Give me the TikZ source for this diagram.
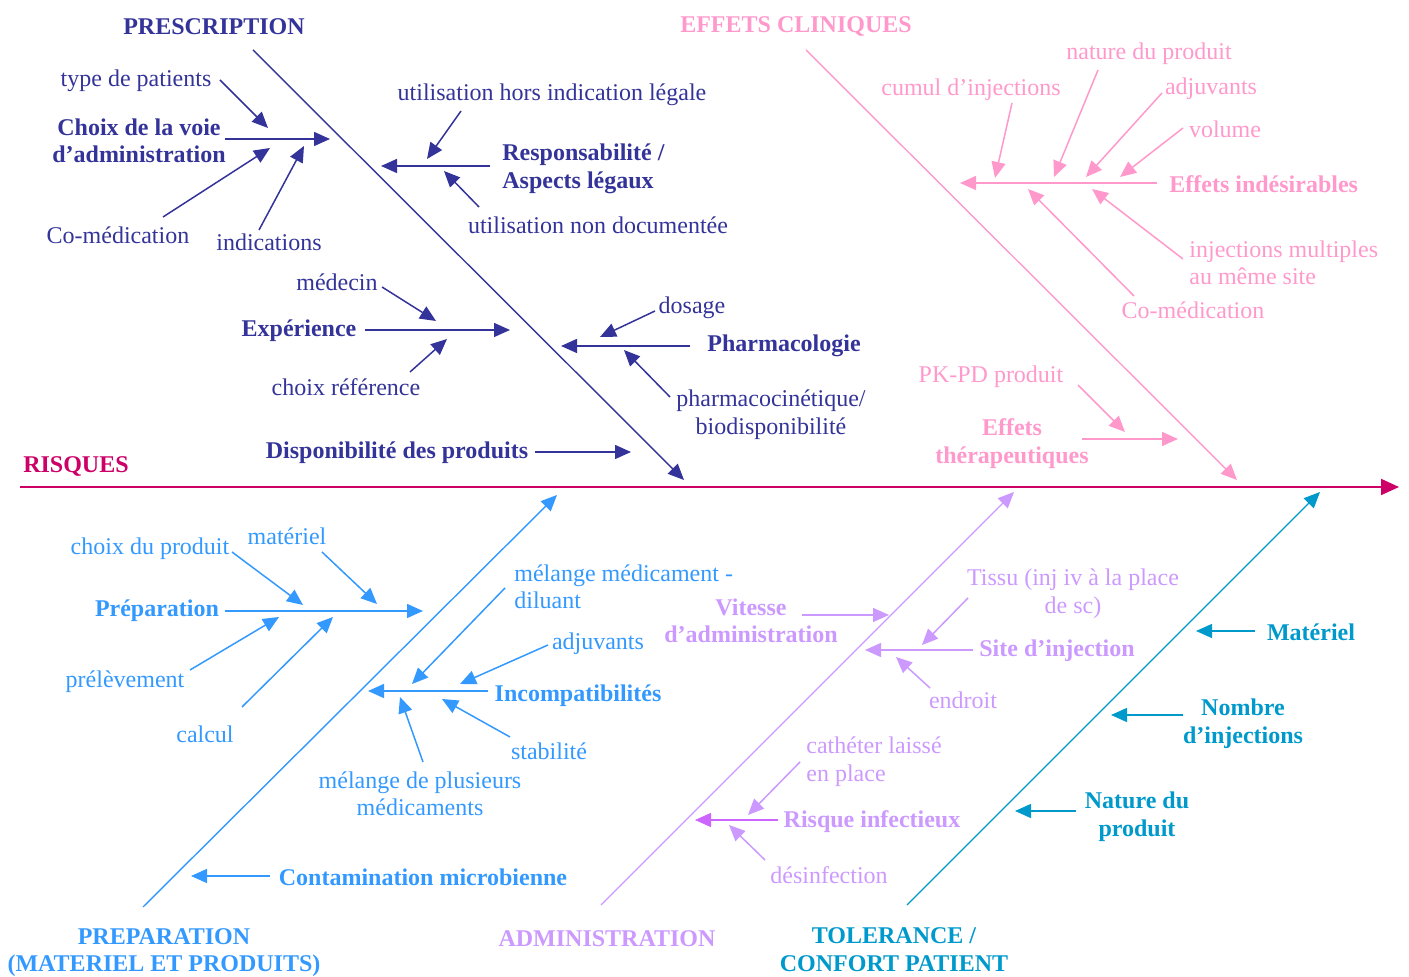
\documentclass[tikz,border=0pt]{standalone}
\usepackage{fontspec}
\setmainfont{Liberation Serif}
\usetikzlibrary{arrows.meta}
\definecolor{cPre}{RGB}{51,51,153}
\definecolor{cEff}{RGB}{255,153,204}
\definecolor{cRis}{RGB}{204,0,102}
\definecolor{cPrep}{RGB}{51,153,255}
\definecolor{cAdm}{RGB}{204,153,255}
\definecolor{cAdmB}{RGB}{204,102,255}
\definecolor{cTol}{RGB}{0,153,204}
\begin{document}
\begin{tikzpicture}[x=0.5pt,y=-0.5pt,
  tip/.style={-{Triangle[length=8pt,width=7pt]}},
  bone/.style={tip,line width=0.7pt},
  twig/.style={tip,line width=0.75pt},
  txt/.style={inner sep=0pt,align=center,yshift=-1.3pt,font=\fontsize{12}{13.8}\selectfont},
  btxt/.style={inner sep=0pt,align=center,yshift=-1.3pt,font=\fontsize{12}{13.8}\selectfont\bfseries},
]
\useasboundingbox (0,0) rectangle (1409,977);

% ---------- main spine ----------
\coordinate (sp0) at (20,487);
\coordinate (sp1) at (1399,487);
\draw[-{Triangle[length=9pt,width=8pt]},draw=cRis,fill=cRis,line width=1pt] (sp0) -- (sp1);
\node[btxt,text=cRis] (risques) at (76,464) {RISQUES};

% ---------- PRESCRIPTION ----------
\begin{scope}[draw=cPre,fill=cPre,text=cPre]
\node[btxt] (presc) at (214,24) {PRESCRIPTION};
\coordinate (pr0) at (253,50); \coordinate (pr1) at (684,480);
\draw[bone] (pr0) -- (pr1);

\node[btxt] (choix) at (139,138) {Choix de la voie\\d'administration};
\coordinate (choixE) at (330,139);
\draw[twig] (225,139) coordinate (choixS) -- (choixE);
\node[txt] (typep) at (136,78) {type de patients};
\draw[twig] (220,80) coordinate (typepS) -- (268,128) coordinate (typepE);
\node[txt] (comed1) at (118,233) {Co-médication};
\draw[twig] (163,217) coordinate (comed1S) -- (270,148) coordinate (comed1E);
\node[txt] (indic) at (269,240) {indications};
\draw[twig] (259,230) coordinate (indicS) -- (304,146) coordinate (indicE);

\node[btxt,anchor=west,align=left] (resp) at (502,166) {Responsabilité /\\Aspects légaux};
\draw[twig] (490,166) coordinate (respS) -- (381,166) coordinate (respE);
\node[txt] (hors) at (552,92) {utilisation hors indication légale};
\draw[twig] (461,111) coordinate (horsS) -- (427,159) coordinate (horsE);
\node[txt] (nondoc) at (598,223) {utilisation non documentée};
\draw[twig] (479,207) coordinate (nondocS) -- (444,171) coordinate (nondocE);

\node[btxt] (exper) at (299,328) {Expérience};
\draw[twig] (365,330) coordinate (experS) -- (510,330) coordinate (experE);
\node[txt] (medecin) at (337,280) {médecin};
\draw[twig] (382,287) coordinate (medecinS) -- (436,321) coordinate (medecinE);
\node[txt] (choixref) at (346,385) {choix référence};
\draw[twig] (410,372) coordinate (choixrefS) -- (447,339) coordinate (choixrefE);

\node[btxt] (pharma) at (784,343) {Pharmacologie};
\draw[twig] (690,346) coordinate (pharmaS) -- (561,346) coordinate (pharmaE);
\node[txt] (dosage) at (692,305) {dosage};
\draw[twig] (655,311) coordinate (dosageS) -- (600,337) coordinate (dosageE);
\node[txt] (pkbio) at (771,412) {pharmacocinétique/\\biodisponibilité};
\draw[twig] (670,397) coordinate (pkbioS) -- (624,350) coordinate (pkbioE);

\node[btxt] (dispo) at (397,450) {Disponibilité des produits};
\draw[twig] (535,452) coordinate (dispoS) -- (631,452) coordinate (dispoE);
\end{scope}

% ---------- EFFETS CLINIQUES ----------
\begin{scope}[draw=cEff,fill=cEff,text=cEff]
\node[btxt] (effcl) at (796,24) {EFFETS CLINIQUES};
\coordinate (ef0) at (806,50); \coordinate (ef1) at (1237,480);
\draw[bone] (ef0) -- (ef1);

\node[btxt,anchor=west] (effind) at (1169,182) {Effets indésirables};
\draw[twig] (1157,183) coordinate (effindS) -- (960,183) coordinate (effindE);
\node[txt] (cumul) at (971,87) {cumul d'injections};
\draw[twig] (1012,103) coordinate (cumulS) -- (995,178) coordinate (cumulE);
\node[txt] (nature) at (1149,51) {nature du produit};
\draw[twig] (1098,70) coordinate (natureS) -- (1054,177) coordinate (natureE);
\node[txt] (adjv1) at (1211,86) {adjuvants};
\draw[twig] (1162,93) coordinate (adjv1S) -- (1086,177) coordinate (adjv1E);
\node[txt] (volume) at (1225,127) {volume};
\draw[twig] (1183,128) coordinate (volumeS) -- (1120,177) coordinate (volumeE);
\node[txt,anchor=west,align=left] (injmul) at (1189,260) {injections multiples\\au même site};
\draw[twig] (1183,259) coordinate (injmulS) -- (1092,189) coordinate (injmulE);
\node[txt] (comed2) at (1193,308) {Co-médication};
\draw[twig] (1134,296) coordinate (comed2S) -- (1028,189) coordinate (comed2E);

\node[txt] (pkpd) at (991,374) {PK-PD produit};
\draw[twig] (1078,385) coordinate (pkpdS) -- (1125,432) coordinate (pkpdE);
\node[btxt] (effth) at (1012,441) {Effets\\thérapeutiques};
\draw[twig] (1082,439) coordinate (effthS) -- (1178,439) coordinate (effthE);
\end{scope}

% ---------- PREPARATION ----------
\begin{scope}[draw=cPrep,fill=cPrep,text=cPrep]
\node[btxt] (prep) at (164,950) {PREPARATION\\(MATERIEL ET PRODUITS)};
\coordinate (pp0) at (143,907); \coordinate (pp1) at (557,495);
\draw[bone] (pp0) -- (pp1);

\node[btxt] (prepa) at (157,608) {Préparation};
\draw[twig] (225,611) coordinate (prepaS) -- (423,611) coordinate (prepaE);
\node[txt] (choixprod) at (150,546) {choix du produit};
\draw[twig] (232,552) coordinate (choixprodS) -- (303,605) coordinate (choixprodE);
\node[txt] (materiel1) at (287,534) {matériel};
\draw[twig] (322,552) coordinate (materiel1S) -- (377,604) coordinate (materiel1E);
\node[txt] (prelev) at (125,679) {prélèvement};
\draw[twig] (190,670) coordinate (prelevS) -- (279,617) coordinate (prelevE);
\node[txt] (calcul) at (205,732) {calcul};
\draw[twig] (242,707) coordinate (calculS) -- (333,617) coordinate (calculE);

\node[btxt] (incomp) at (578,693) {Incompatibilités};
\draw[twig] (488,691) coordinate (incompS) -- (368,691) coordinate (incompE);
\node[txt,anchor=west,align=left] (melmd) at (514,584) {mélange médicament -\\diluant};
\draw[twig] (505,588) coordinate (melmdS) -- (412,684) coordinate (melmdE);
\node[txt] (adjv2) at (598,641) {adjuvants};
\draw[twig] (548,645) coordinate (adjv2S) -- (460,684) coordinate (adjv2E);
\node[txt] (stab) at (549,749) {stabilité};
\draw[twig] (510,737) coordinate (stabS) -- (442,699) coordinate (stabE);
\node[txt] (melplus) at (420,791) {mélange de plusieurs\\médicaments};
\draw[twig] (423,762) coordinate (melplusS) -- (400,697) coordinate (melplusE);

\node[btxt] (contam) at (423,875) {Contamination microbienne};
\draw[twig] (270,876) coordinate (contamS) -- (191,876) coordinate (contamE);
\end{scope}

% ---------- ADMINISTRATION ----------
\begin{scope}[draw=cAdm,fill=cAdm,text=cAdm]
\node[btxt] (admin) at (607,936) {ADMINISTRATION};
\coordinate (ad0) at (601,905); \coordinate (ad1) at (1014,492);
\draw[bone] (ad0) -- (ad1);

\node[btxt] (vitesse) at (751,618) {Vitesse\\d'administration};
\draw[twig] (802,615) coordinate (vitesseS) -- (889,615) coordinate (vitesseE);
\node[txt] (tissu) at (1073,591) {Tissu (inj iv à la place\\de sc)};
\draw[twig] (968,598) coordinate (tissuS) -- (922,645) coordinate (tissuE);
\node[btxt] (site) at (1057,648) {Site d'injection};
\draw[twig] (973,650) coordinate (siteS) -- (865,650) coordinate (siteE);
\node[txt] (endroit) at (963,698) {endroit};
\draw[twig] (930,688) coordinate (endroitS) -- (896,657) coordinate (endroitE);

\node[btxt] (risqinf) at (872,819) {Risque infectieux};
\draw[twig,draw=cAdmB,fill=cAdmB] (778,820) coordinate (risqinfS) -- (695,820) coordinate (risqinfE);
\node[txt,anchor=west,align=left] (cath) at (806,759) {cathéter laissé\\en place};
\draw[twig] (800,762) coordinate (cathS) -- (748,815) coordinate (cathE);
\node[txt] (desinf) at (829,873) {désinfection};
\draw[twig] (765,860) coordinate (desinfS) -- (729,825) coordinate (desinfE);
\end{scope}

% ---------- TOLERANCE ----------
\begin{scope}[draw=cTol,fill=cTol,text=cTol]
\node[btxt] (toler) at (894,947) {TOLERANCE /\\CONFORT PATIENT};
\coordinate (to0) at (907,905); \coordinate (to1) at (1320,492);
\draw[bone] (to0) -- (to1);

\node[btxt] (mat2) at (1311,630) {Matériel};
\draw[twig] (1255,631) coordinate (mat2S) -- (1196,631) coordinate (mat2E);
\node[btxt] (nombre) at (1243,721) {Nombre\\d'injections};
\draw[twig] (1183,715) coordinate (nombreS) -- (1111,715) coordinate (nombreE);
\node[btxt] (natprod) at (1137,814) {Nature du\\produit};
\draw[twig] (1076,811) coordinate (natprodS) -- (1015,811) coordinate (natprodE);
\end{scope}
\end{tikzpicture}
\end{document}
